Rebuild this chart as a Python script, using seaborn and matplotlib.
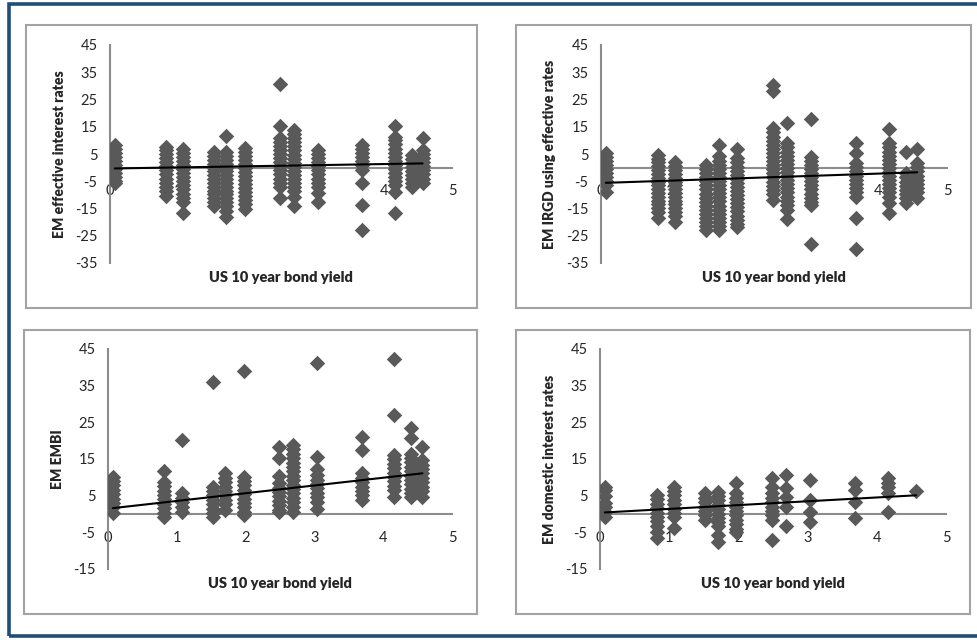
import numpy as np
import pandas as pd
import seaborn as sns
import matplotlib.pyplot as plt
from matplotlib.patches import Rectangle

# US 10 year bond yield (x position of each column of points)
yields = [0.07, 0.82, 1.07, 1.52, 1.70, 1.97, 2.49, 2.69, 3.04, 3.69, 4.16, 4.41, 4.57]

# EM effective interest rates, one list per yield column
eff_rates = [
    [8.3, 7, 5.5, 4, 2.5, 1, -0.5, -2, -3.5, -5, -5.8],
    [7.7, 6.5, 5, 3.5, 2, 0.5, -1, -2.5, -4, -5.5, -7, -8.5, -10.5],
    [6.7, 5.5, 4, 2.5, 1, -0.5, -2, -3.5, -5, -6.5, -8, -9.5, -11, -12.5, -16.5],
    [5.6, 4.2, 2.8, 1.4, 0, -1.4, -2.8, -4.2, -5.6, -7, -8.4, -9.8, -11.2, -12.6, -14],
    [11.7, 5.6, 4.2, 2.8, 1.4, 0, -1.4, -2.8, -4.2, -5.6, -7, -8.4, -9.8, -11.2, -12.6, -14, -16, -18.3],
    [7.1, 5.7, 4.3, 2.9, 1.5, 0, -1.5, -3, -4.5, -6, -7.5, -9, -10.5, -12, -13.5, -15],
    [30.7, 15.3, 10.8, 9.5, 8, 6.5, 5, 3.5, 2, 0.5, -1, -2.5, -4, -5.8, -7, -11],
    [13.8, 12.3, 10.8, 9.3, 7.8, 6.3, 4.8, 3.3, 1.8, 0.3, -1.2, -2.7, -4.2, -5.7, -7.2, -8.7, -10.7, -14],
    [6.5, 5, 3.5, 2, 0.5, -1, -2.5, -4, -5.5, -7, -9.4, -12.7],
    [8.3, 6.8, 5.3, 3.8, 2.3, 0.8, -0.9, -5.8, -13.7, -22.9],
    [15.3, 11.4, 10, 8.5, 7, 5.5, 4, 2.5, 1, -0.5, -2, -3.5, -5, -6.5, -8.8, -16.8],
    [4.7, 3.2, 1.7, 0.2, -1.3, -2.8, -4.3, -5.8, -7],
    [10.8, 6.5, 5, 3.5, 2, 0.5, -1, -2.5, -4, -5.8],
]

# EM IRGD using effective rates
irgd_rates = [
    [5.3, 4, 2.5, 1, -0.5, -2, -3.5, -5, -6.5, -8.8],
    [4.7, 3.3, 1.9, 0.5, -0.9, -2.3, -3.7, -5.1, -6.5, -7.9, -9.3, -10.7, -12.1, -13.5, -14.9, -16.3, -18.5],
    [1.9, 0.5, -0.9, -2.3, -3.7, -5.1, -6.5, -7.9, -9.3, -10.7, -12.1, -13.5, -14.9, -16.3, -17.7, -19.8],
    [1, -0.5, -2, -3.5, -5, -6.5, -8, -9.5, -11, -12.5, -14, -15.5, -17, -18.5, -20, -21.5, -22.9],
    [8.3, 4.1, 2.6, 1.1, -0.4, -1.9, -3.4, -4.9, -6.4, -7.9, -9.4, -10.9, -12.4, -13.9, -15.4, -16.9, -18.4, -19.9, -21.4, -22.9],
    [6.7, 3.4, 1.9, 0.4, -1.1, -2.6, -4.1, -5.6, -7.1, -8.6, -10.1, -11.6, -13.1, -14.6, -16.1, -17.6, -19.1, -20.6, -21.7],
    [30.3, 28.2, 14.4, 12.9, 11.4, 9.9, 8.4, 6.9, 5.4, 3.9, 2.4, 0.9, -0.6, -2.1, -3.6, -5.1, -6.6, -8.1, -9.6, -11.9],
    [16.2, 8.9, 7.4, 5.9, 4.4, 2.9, 1.4, -0.1, -1.6, -3.1, -4.6, -6.1, -7.6, -9.1, -10.6, -12.1, -13.6, -15.5, -18.9],
    [17.7, 4, 2.5, 1, -0.5, -2, -3.5, -5, -6.5, -8, -9.5, -11, -12.5, -13.7, -28],
    [8.9, 5.3, 1.6, 0.1, -1.4, -2.9, -4.4, -5.9, -7.4, -8.9, -10.7, -18.6, -30],
    [14.1, 8.9, 7.4, 5.9, 4.4, 2.9, 1.4, -0.1, -1.6, -3.1, -4.6, -6.1, -7.6, -9.1, -10.6, -13.1, -16.8],
    [5.9, -2.1, -3.6, -5.1, -6.6, -8.1, -9.6, -11.1, -13.1],
    [6.7, 1.6, 0.1, -1.4, -2.9, -4.4, -5.9, -7.4, -8.9, -11.3],
]

# EM EMBI
embi_rates = [
    [10.2, 9, 7.8, 6.6, 5.4, 4.2, 3, 1.8, 0.3],
    [11.7, 8.8, 7.6, 6.4, 5.2, 4, 2.8, 1.6, 0.4, -0.7],
    [20.2, 5.6, 4.4, 3.2, 2, 0.6],
    [36.1, 7.5, 6.3, 5.1, 3.9, 2.7, 1.5, 0.3, -0.7],
    [11.1, 9.9, 8.7, 7.5, 6.3, 5.1, 3.9, 2.7, 1.1],
    [39.1, 10.2, 9, 7.8, 6.6, 5.4, 4.2, 3, 1.8, 0.6, -0.3],
    [18.4, 15.2, 10.4, 8.4, 7.2, 6, 4.8, 3.6, 2.4, 1.2, 0.6],
    [18.8, 17.6, 16.4, 15.2, 14, 12.8, 11.6, 10.4, 9.2, 8, 6.8, 5.6, 4.4, 3.2, 2, 0.6],
    [41.3, 15.6, 12.4, 10.6, 9.4, 8.2, 7, 5.8, 4.6, 3.4, 1.5],
    [21.1, 17.5, 11.1, 9.9, 8.7, 7.5, 6.3, 5.1, 3.8],
    [42.4, 27, 16.1, 14.9, 13.7, 12.5, 11.3, 10.1, 8.9, 7.7, 6.5, 4.7],
    [23.4, 20.6, 16.5, 15.3, 14.1, 12.9, 11.7, 10.5, 9.3, 8.1, 6.9, 5.7, 4.7],
    [18.2, 14.7, 13.5, 12.3, 11.1, 9.9, 8.7, 7.5, 6.3, 4.7],
]

# EM domestic interest rates
dom_rates = [
    [7.5, 6.5, 5, 3, 2, 0.5, -0.7],
    [5.2, 4, 2.8, 1.6, 0.4, -0.8, -2, -3.4, -4.8, -6.6],
    [7.5, 6.3, 5.1, 3.9, 2.7, 1.5, 0.3, -0.7, -3.9],
    [5.6, 4.4, 3.2, 2, 0.8, -0.4, -1.6],
    [6.1, 4.9, 3.7, 2.5, 1.3, 0.1, -1.1, -2.3, -3.4, -5.8, -7.5],
    [8.4, 5.6, 4.4, 3.2, 2, 0.8, -0.4, -1.6, -2.8, -4, -4.8],
    [9.7, 7.5, 5.6, 4.4, 3.2, 2, 0.8, -0.4, -1.6, -7.1],
    [10.6, 7, 4.7, 2, -3.4],
    [9.3, 3.8, 0.6, -2.1],
    [8.4, 6.6, 3.4, -1.2],
    [9.7, 8.4, 7.5, 5.6, 0.6],
    [],
    [6.3],
]

ylabels = ["EM effective interest rates", "EM IRGD using effective rates",
           "EM EMBI", "EM domestic interest rates"]
# linear trend lines (intercept, slope)
trend_intercept = [-0.33, -5.64, 1.45, 0.35]
trend_slope = [0.41, 0.86, 2.11, 1.04]

sns.set_style("white")
plt.rcParams['font.family'] = ['Lato', 'DejaVu Sans']
plt.rcParams['axes.unicode_minus'] = False

fig = plt.figure(figsize=(9.77, 6.4), dpi=100)

W, H = 977, 640


def fig_box(x0, y0, x1, y1):
    # pixel box (top-left origin) -> figure fraction [left, bottom, width, height]
    return [x0 / W, 1 - y1 / H, (x1 - x0) / W, (y1 - y0) / H]


# outer frame and panel frames
fig.patches.append(Rectangle((9 / W, 4 / H), 1, 632 / H, transform=fig.transFigure,
                             fill=False, edgecolor='#1F4E79', linewidth=2.6))
for (x0, y0, x1, y1) in [(26, 25, 477, 308), (516, 25, 971, 308),
                         (24, 330, 477, 614), (516, 330, 970, 614)]:
    l, b, w, h = fig_box(x0, y0, x1, y1)
    fig.patches.append(Rectangle((l, b), w, h, transform=fig.transFigure,
                                 fill=False, edgecolor='#a3a3a3', linewidth=1.5))

axes_boxes = [(110, 45, 452, 263), (601, 45, 947, 263),
              (108, 349, 452, 569), (600, 349, 946, 569)]
all_rates = [eff_rates, irgd_rates, embi_rates, dom_rates]
ylims = [(-35, 45), (-35, 45), (-15, 45), (-15, 45)]

for i in range(4):
    ax = fig.add_axes(fig_box(*axes_boxes[i]))
    ax.patch.set_alpha(0)
    xs, ys = [], []
    for x, col in zip(yields, all_rates[i]):
        xs += [x] * len(col)
        ys += col
    df = pd.DataFrame({"yield": xs, "rate": ys})
    sns.scatterplot(data=df, x="yield", y="rate", ax=ax, marker="D", s=62,
                    color="#595959", linewidth=0, zorder=3)
    x_line = np.array([df["yield"].min(), df["yield"].max()])
    ax.plot(x_line, trend_intercept[i] + trend_slope[i] * x_line,
            color="black", linewidth=1.5, zorder=4)

    lo, hi = ylims[i]
    ax.set_xlim(0, 5)
    ax.set_ylim(lo, hi)
    ax.set_xticks(range(0, 6))
    ax.set_yticks(range(lo, hi + 1, 10))
    for s in ["top", "right"]:
        ax.spines[s].set_visible(False)
    ax.spines["bottom"].set_position(("data", 0))
    for s in ["left", "bottom"]:
        ax.spines[s].set_color("#8c8c8c")
        ax.spines[s].set_linewidth(1.5)
        ax.spines[s].set_zorder(1)
    ax.tick_params(axis="both", direction="out", length=4, width=1.2,
                   color="#8c8c8c", labelsize=10.5, labelcolor="#262626")
    ax.tick_params(axis="x", pad=8)
    ax.tick_params(axis="y", pad=5)

    ax.set_xlabel("US 10 year bond yield", fontsize=10.5, fontweight="heavy")
    ax.set_ylabel(ylabels[i], fontsize=10, fontweight="heavy")
    x0, y0, x1, y1 = axes_boxes[i]
    ax.xaxis.set_label_coords(0.5, -15 / (y1 - y0))
    ax.xaxis.label.set_va("center")
    ax.yaxis.set_label_coords(-51 / (x1 - x0), 0.5)
    ax.yaxis.label.set_va("center")

fig.savefig("out.png", dpi=100)
